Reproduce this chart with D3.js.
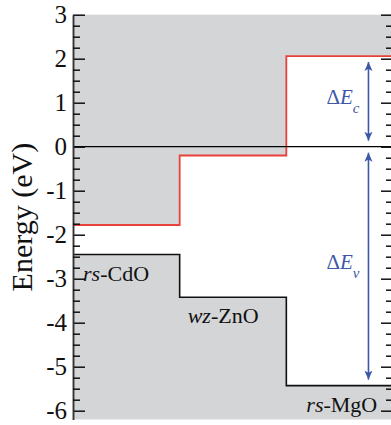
<!DOCTYPE html>
<html>
<head>
<meta charset="utf-8">
<script src="https://cdn.jsdelivr.net/npm/d3@7"></script>
<style>
  html, body { margin: 0; padding: 0; background: #fff; }
  svg { display: block; }
  text { font-family: "Liberation Serif", "Times New Roman", serif; }
</style>
</head>
<body>
<svg id="chart" width="391" height="425"></svg>
<script>
// ---- data ----
const categories = ["rs-CdO", "wz-ZnO", "rs-MgO"];
const labelPrefix = ["rs", "wz", "rs"];
const labelSuffix = ["-CdO", "-ZnO", "-MgO"];
const cbm = [-1.78, -0.20, 2.06];   // conduction band minimum (eV)
const vbm = [-2.45, -3.42, -5.43];  // valence band maximum (eV)
const majorTicks = [3, 2, 1, 0, -1, -2, -3, -4, -5, -6];
const minorTicks = d3.range(-6, 3.001, 0.25).filter(v => Math.abs(v - Math.round(v)) > 1e-6);
const yDomain = [-6.2, 3];

// ---- layout ----
const svg = d3.select("#chart");
const pLeft = 73, pRight = 393, pTop = 14.7, pBottom = 419.5;

const x = d3.scaleBand().domain(categories).range([pLeft, pRight]).padding(0);
const y = d3.scaleLinear().domain(yDomain).range([pBottom, pTop]);
const bw = x.bandwidth();

const GRAY = "#d4d5d7", RED = "#e8413c", BLUE = "#3c57a8";

// gray background
svg.append("rect")
  .attr("x", pLeft).attr("y", pTop)
  .attr("width", pRight - pLeft).attr("height", pBottom - pTop)
  .attr("fill", GRAY);

// step points
const pts = categories.map((c, i) => ({ x: x(c), c: cbm[i], v: vbm[i] }));
pts.push({ x: pRight, c: cbm[cbm.length - 1], v: vbm[vbm.length - 1] });

// white gap between bands
svg.append("path")
  .datum(pts)
  .attr("d", d3.area().curve(d3.curveStepAfter)
    .x(d => d.x).y0(d => y(d.v)).y1(d => y(d.c)))
  .attr("fill", "#fff");

// CBM red step line
svg.append("path")
  .datum(pts)
  .attr("d", d3.line().curve(d3.curveStepAfter).x(d => d.x).y(d => y(d.c)))
  .attr("fill", "none").attr("stroke", RED).attr("stroke-width", 1.8);

// VBM black step line
svg.append("path")
  .datum(pts)
  .attr("d", d3.line().curve(d3.curveStepAfter).x(d => d.x).y(d => y(d.v)))
  .attr("fill", "none").attr("stroke", "#111").attr("stroke-width", 1.6);

// zero line
svg.append("line")
  .attr("x1", pLeft).attr("x2", pRight)
  .attr("y1", y(0)).attr("y2", y(0))
  .attr("stroke", "#000").attr("stroke-width", 1.3);

// axes
const fmt = d => String(d);
const gL = svg.append("g").attr("transform", `translate(${pLeft},0)`)
  .call(d3.axisLeft(y).tickValues(majorTicks).tickFormat(fmt).tickSizeInner(-12).tickSizeOuter(0).tickPadding(6));
const gLm = svg.append("g").attr("transform", `translate(${pLeft},0)`)
  .call(d3.axisLeft(y).tickValues(minorTicks).tickFormat("").tickSizeInner(-7).tickSizeOuter(0));
const gR = svg.append("g").attr("transform", `translate(${pRight},0)`)
  .call(d3.axisRight(y).tickValues(majorTicks).tickFormat("").tickSizeInner(-12).tickSizeOuter(0));
const gRm = svg.append("g").attr("transform", `translate(${pRight},0)`)
  .call(d3.axisRight(y).tickValues(minorTicks).tickFormat("").tickSizeInner(-7).tickSizeOuter(0));

[gL, gLm, gR, gRm].forEach(g => {
  g.select(".domain").attr("stroke", "#333").attr("stroke-width", 1.5);
  g.selectAll(".tick line").attr("stroke", "#111").attr("stroke-width", 1.5);
});
gL.selectAll(".tick text")
  .attr("font-size", 25).attr("fill", "#111").attr("dy", "0.32em")
  .style("font-family", "Liberation Serif, serif");

// y axis title
svg.append("text")
  .attr("transform", `translate(32,${(pTop + pBottom) / 2}) rotate(-90)`)
  .attr("text-anchor", "middle")
  .attr("font-size", 30).attr("fill", "#111")
  .text("Energy (eV)");

// category labels
const labelOffsets = [10, 8, 20];
categories.forEach((c, i) => {
  const t = svg.append("text")
    .attr("x", x(c) + labelOffsets[i])
    .attr("y", y(vbm[i]) + 26)
    .attr("font-size", 22).attr("fill", "#111");
  t.append("tspan").attr("font-style", "italic").text(labelPrefix[i]);
  t.append("tspan").text(labelSuffix[i]);
});

// arrows
const defs = svg.append("defs");
["start", "end"].forEach(k => {
  defs.append("marker")
    .attr("id", "arr-" + k)
    .attr("viewBox", "0 -5 10 10")
    .attr("refX", k === "end" ? 10 : 0).attr("refY", 0)
    .attr("markerUnits", "userSpaceOnUse")
    .attr("markerWidth", 9).attr("markerHeight", 9)
    .attr("orient", "auto")
    .append("path")
    .attr("d", k === "end" ? "M0,-4.5L10,0L0,4.5L2.5,0Z" : "M10,-4.5L0,0L10,4.5L7.5,0Z")
    .attr("fill", BLUE);
});

const ax = x(categories[2]) + bw * 0.77;
const offsets = [
  { name: "c", from: 0, to: cbm[2] },
  { name: "v", from: vbm[2], to: 0 }
];
const inset = 6;
offsets.forEach(o => {
  svg.append("line")
    .attr("x1", ax).attr("x2", ax)
    .attr("y1", y(o.to) + inset).attr("y2", y(o.from) - inset)
    .attr("stroke", BLUE).attr("stroke-width", 1.6)
    .attr("marker-start", "url(#arr-start)")
    .attr("marker-end", "url(#arr-end)");
  const mid = (y(o.to) + y(o.from)) / 2;
  const t = svg.append("text")
    .attr("x", ax - 42).attr("y", mid + 3)
    .attr("font-size", 21).attr("fill", BLUE);
  t.append("tspan").text("Δ");
  t.append("tspan").attr("font-style", "italic").text("E");
  t.append("tspan").attr("font-style", "italic").attr("font-size", 15).attr("dy", 9).text(o.name);
});
</script>
</body>
</html>
